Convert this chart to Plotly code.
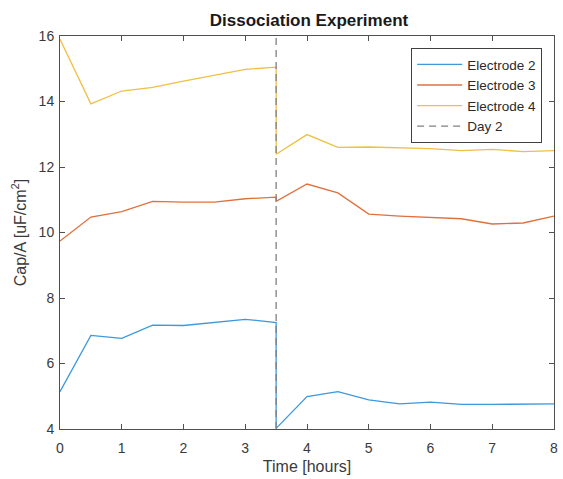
import plotly.graph_objects as go

# Sampling times (hours); 3.5 appears twice: end of day 1 and start of day 2
time_h = [0, 0.5, 1, 1.5, 2, 2.5, 3, 3.5, 3.5, 4, 4.5, 5, 5.5, 6, 6.5, 7, 7.5, 8]

electrode2 = [5.14, 6.86, 6.77, 7.17, 7.16, 7.26, 7.35, 7.25,
              4.02, 4.99, 5.14, 4.89, 4.77, 4.82, 4.75, 4.75, 4.75, 4.77]
electrode3 = [9.74, 10.47, 10.64, 10.95, 10.93, 10.93, 11.03, 11.08,
              10.95, 11.48, 11.21, 10.56, 10.50, 10.46, 10.42, 10.26, 10.29, 10.50]
electrode4 = [15.9, 13.93, 14.32, 14.43, 14.62, 14.80, 14.98, 15.05,
              12.39, 12.99, 12.60, 12.61, 12.59, 12.56, 12.50, 12.54, 12.47, 12.50]

day2_x = [3.5, 3.5]
day2_y = [4, 16]

x_ticks = [0, 1, 2, 3, 4, 5, 6, 7, 8]
y_ticks = [4, 6, 8, 10, 12, 14, 16]

series = [
    ("Electrode 2", electrode2, "#3d98dc"),
    ("Electrode 3", electrode3, "#e0703c"),
    ("Electrode 4", electrode4, "#f0bf45"),
]

fig = go.Figure()
for name, vals, color in series:
    fig.add_trace(go.Scatter(x=time_h, y=vals, mode="lines", name=name,
                             line=dict(color=color, width=1.3)))

fig.add_trace(go.Scatter(x=day2_x, y=day2_y, mode="lines", name="Day 2",
                         line=dict(color="#808080", width=1.3, dash="7px,5px")))

font_family = "Liberation Sans, Arial, sans-serif"
axis_color = "#505050"

fig.update_layout(
    width=563, height=479,
    margin=dict(l=60, r=5, t=36, b=50),
    paper_bgcolor="white", plot_bgcolor="white",
    font=dict(family=font_family, size=14, color="#3a3a3a"),
    title=dict(text="<b>Dissociation Experiment</b>", x=(60 + 558) / 2 / 563,
               xanchor="center", y=1 - 20 / 479, yanchor="middle",
               font=dict(size=17, color="#1a1a1a")),
    showlegend=True,
    legend=dict(x=0.976, y=0.969, xanchor="right", yanchor="top",
                bgcolor="white", bordercolor="#404040", borderwidth=1,
                font=dict(size=13.5, color="#2a2a2a"), itemwidth=45,
                tracegroupgap=0),
    xaxis=dict(range=[0, 8], tickvals=x_ticks, ticks="inside", ticklen=5,
               tickcolor=axis_color, showline=True, linecolor=axis_color,
               linewidth=1, mirror="allticks", showgrid=False, zeroline=False,
               ticklabelstandoff=6,
               title=dict(text="Time [hours]", font=dict(size=16), standoff=6),
               tickfont=dict(size=14)),
    yaxis=dict(range=[4, 16], tickvals=y_ticks, ticks="inside", ticklen=5,
               tickcolor=axis_color, showline=True, linecolor=axis_color,
               linewidth=1, mirror="allticks", showgrid=False, zeroline=False,
               ticklabelstandoff=2,
               title=dict(text="Cap/A [uF/cm<sup>2</sup>]", font=dict(size=16),
                          standoff=8),
               tickfont=dict(size=14)),
)

fig.write_html("out.html")
